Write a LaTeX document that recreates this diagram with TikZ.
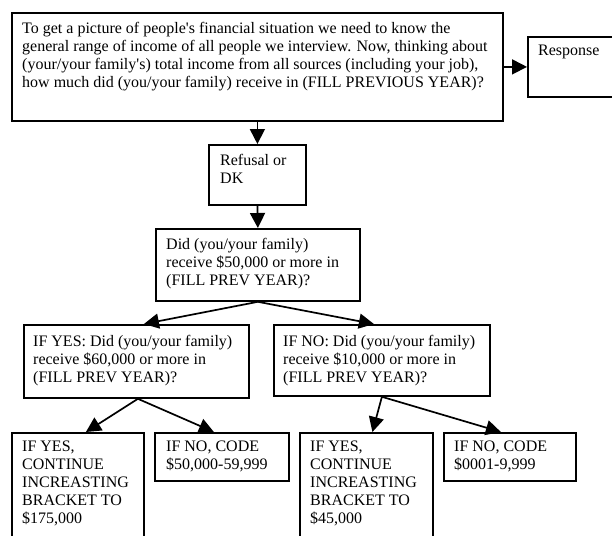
\documentclass[tikz,border=0pt]{standalone}
\usepackage{fontspec}
\setmainfont{Liberation Serif}
\usetikzlibrary{arrows.meta,calc}
\tikzset{
  box/.style={draw=black, line width=1.8pt, inner sep=0pt, anchor=north west, rectangle},
  txt/.style={inner sep=0pt, anchor=north west, align=left, font=\fontsize{16}{18}\selectfont},
  arr/.style={line width=1.7pt, -{Triangle[length=15pt,width=15pt]}}
}
\begin{document}
\begin{tikzpicture}[x=1pt,y=1pt]
\useasboundingbox (0,0) rectangle (612,-535);
% boxes
\node[box, minimum width=491pt, minimum height=108pt] (top) at (11,-12) {};
\node[box, minimum width=93pt, minimum height=60pt] (resp) at (527,-36) {};
\node[box, minimum width=97pt, minimum height=60pt] (ref) at (208,-144) {};
\node[box, minimum width=204pt, minimum height=72pt] (did) at (155,-228) {};
\node[box, minimum width=225pt, minimum height=73pt] (yes) at (23,-324) {};
\node[box, minimum width=216pt, minimum height=71pt] (no) at (273,-324) {};
\node[box, minimum width=132pt, minimum height=113pt] (b1) at (11,-432) {};
\node[box, minimum width=134pt, minimum height=48pt] (b2) at (154,-432) {};
\node[box, minimum width=133pt, minimum height=113pt] (b3) at (299,-432) {};
\node[box, minimum width=132pt, minimum height=48pt] (b4) at (443,-432) {};
% texts
\node[txt] (toptxt) at (22,-20.4) {\strut To get a picture of people\textquotesingle s financial situation we need to know the\\
general range of income of all people we interview. Now, thinking about\\
(your/your family\textquotesingle s) total income from all sources (including your job),\\
how much did (you/your family) receive in (FILL PREVIOUS YEAR)?};
\node[txt] (resptxt) at (538,-42.4) {\strut Response};
\node[txt] (reftxt) at (220,-152.4) {\strut Refusal or\\DK};
\node[txt] (didtxt) at (166,-236.4) {\strut Did (you/your family)\\receive \$50,000 or more in\\(FILL PREV YEAR)?};
\node[txt] (yestxt) at (33,-333.4) {\strut IF YES: Did (you/your family)\\receive \$60,000 or more in\\(FILL PREV YEAR)?};
\node[txt] (notxt) at (283,-333.4) {\strut IF NO: Did (you/your family)\\receive \$10,000 or more in\\(FILL PREV YEAR)?};
\node[txt] (b1txt) at (22,-438.4) {\strut IF YES,\\CONTINUE\\INCREASTING\\BRACKET TO\\\$175,000};
\node[txt] (b2txt) at (166,-438.4) {\strut IF NO, CODE\\\$50,000-59,999};
\node[txt] (b3txt) at (310,-438.4) {\strut IF YES,\\CONTINUE\\INCREASTING\\BRACKET TO\\\$45,000};
\node[txt] (b4txt) at (454,-438.4) {\strut IF NO, CODE\\\$0001-9,999};
% arrows
\draw[arr] (top.east) -- (resp.west);
\draw[arr] (top.south) -- (ref.north);
\draw[arr] (ref.south) -- (did.north);
\draw[arr] (did.south) -- ([xshift=7.5pt]yes.north);
\draw[arr] (did.south) -- ([xshift=-8pt]no.north);
\draw[arr] ([xshift=1.5pt]yes.south) -- ([xshift=8pt]b1.north);
\draw[arr] ([xshift=1.5pt]yes.south) -- ([xshift=-8pt]b2.north);
\draw[arr] (no.south) -- ([xshift=6pt]b3.north);
\draw[arr] (no.south) -- ([xshift=-9pt]b4.north);
\end{tikzpicture}
\end{document}
